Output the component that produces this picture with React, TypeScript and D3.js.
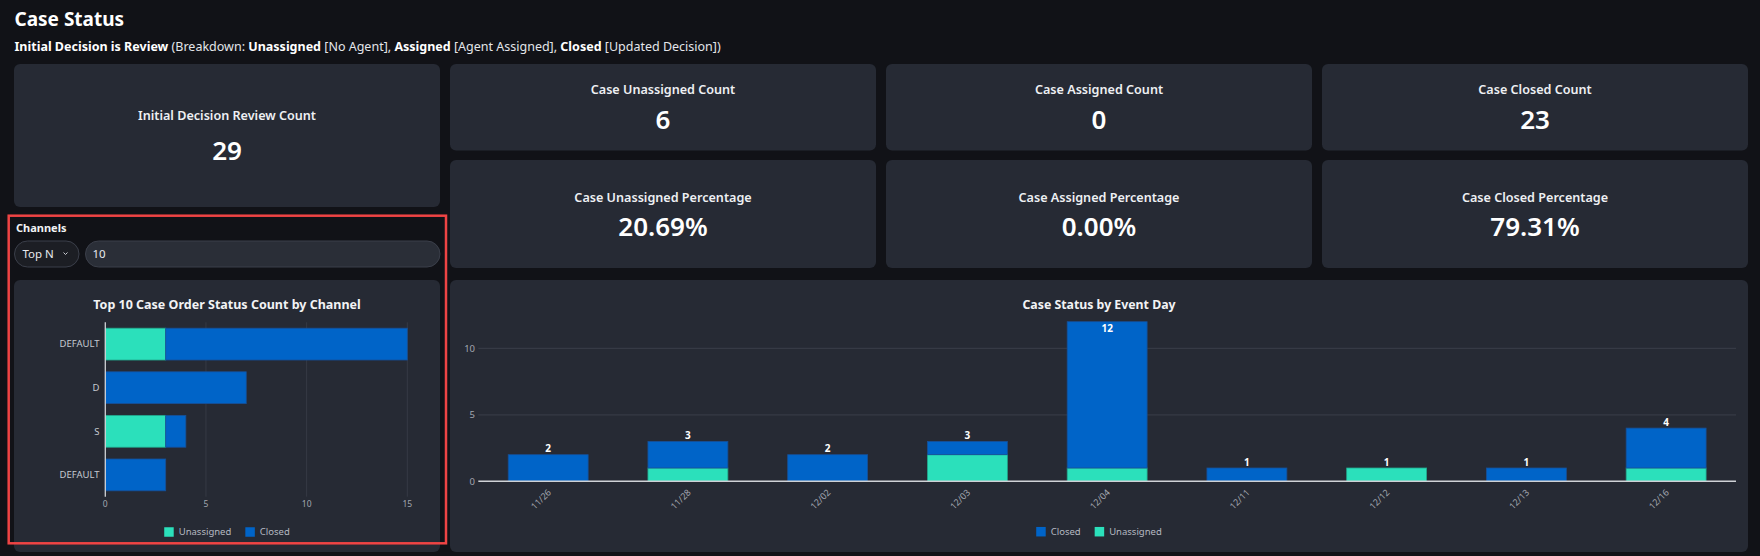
import React from 'react'
import * as d3 from 'd3'

const FONT = "'Noto Sans', sans-serif"
const PAGE_BG = '#111217'
const CARD_BG = '#262a34'
const GRID = '#363a45'
const BLUE = '#0064c8'
const TEAL = '#2be0bb'

// header
const pageTitle = 'Case Status'
const subtitleParts: [string, boolean][] = [
  ['Initial Decision is Review', true],
  [' (Breakdown: ', false],
  ['Unassigned', true],
  [' [No Agent], ', false],
  ['Assigned', true],
  [' [Agent Assigned], ', false],
  ['Closed', true],
  [' [Updated Decision])', false],
]

// KPI cards
const mainKpiTitle = 'Initial Decision Review Count'
const mainKpiValue = '29'
const countTitles = ['Case Unassigned Count', 'Case Assigned Count', 'Case Closed Count']
const countValues = ['6', '0', '23']
const pctTitles = ['Case Unassigned Percentage', 'Case Assigned Percentage', 'Case Closed Percentage']
const pctValues = ['20.69%', '0.00%', '79.31%']

// channel chart
const channelLabels = ['DEFAULT', 'D', 'S', 'DEFAULT']
const channelUnassigned = [3, 0, 3, 0]
const channelClosed = [12, 7, 1, 3]
const channelTicks = [0, 5, 10, 15]

// event day chart
const days = ['11/26', '11/28', '12/02', '12/03', '12/04', '12/11', '12/12', '12/13', '12/16']
const dayUnassigned = [0, 1, 0, 2, 1, 0, 1, 0, 1]
const dayClosed = [2, 2, 2, 1, 11, 1, 0, 1, 3]
const dayTicks = [0, 5, 10]

let ctx: CanvasRenderingContext2D | null = null
function textWidth(t: string, font: string) {
  if (!ctx) ctx = document.createElement('canvas').getContext('2d')
  if (!ctx) return t.length * 6
  ctx.font = font
  return ctx.measureText(t).width
}

function Card({ x, y, w, h }: { x: number; y: number; w: number; h: number }) {
  return <rect x={x} y={y} width={w} height={h} rx={6} fill={CARD_BG} />
}

function Kpi({ x, y, w, h, title, value, titleY, valueY }: any) {
  return (
    <g>
      <Card x={x} y={y} w={w} h={h} />
      <text x={x + w / 2} y={titleY} textAnchor="middle" fontSize={12.6} fontWeight={600} fill="#eef0f3">{title}</text>
      <text x={x + w / 2} y={valueY} textAnchor="middle" fontSize={26} fontWeight={600} fill="#ffffff">{value}</text>
    </g>
  )
}

function Legend({ cx, y, items }: { cx: number; y: number; items: [string, string][] }) {
  const sw = 9.5, gap = 5, space = 14
  const font = `9.5px ${FONT}`
  const widths = items.map(([t]) => sw + gap + textWidth(t, font))
  const total = d3.sum(widths) + space * (items.length - 1)
  let cur = cx - total / 2
  return (
    <g>
      {items.map(([t, c], i) => {
        const x0 = cur
        cur += widths[i] + space
        return (
          <g key={i}>
            <rect x={x0} y={y - sw / 2} width={sw} height={sw} fill={c} />
            <text x={x0 + sw + gap} y={y + 3.3} fontSize={9.5} fill="#b5b9c1">{t}</text>
          </g>
        )
      })}
    </g>
  )
}

function ChannelChart() {
  const data = channelLabels.map((_, i) => ({ idx: String(i), unassigned: channelUnassigned[i], closed: channelClosed[i] }))
  const series = d3.stack<any>().keys(['unassigned', 'closed'])(data)
  const x = d3.scaleLinear().domain([0, 15]).range([105.3, 407.3])
  const y = d3.scaleBand<string>().domain(data.map(d => d.idx)).range([322.3, 496.7]).paddingInner(0.27).paddingOuter(0.135)
  const colors = [TEAL, BLUE]
  const strokes = ['#22a68c', '#174f96']
  return (
    <g>
      <Card x={14} y={280} w={426} h={272} />
      <text x={227} y={308.5} textAnchor="middle" fontSize={12.5} fontWeight={700} fill="#f2f3f5">Top 10 Case Order Status Count by Channel</text>
      {channelTicks.filter(t => t > 0).map(t => (
        <line key={t} x1={x(t)} x2={x(t)} y1={322.3} y2={496.7} stroke={GRID} strokeWidth={1} />
      ))}
      {series.map((s, si) => s.map((d, i) => {
        const w = x(d[1]) - x(d[0])
        if (w <= 0) return null
        return (
          <rect key={si + '-' + i} x={x(d[0])} y={y(String(i))} width={w} height={y.bandwidth()}
            fill={colors[si]} stroke={strokes[si]} strokeWidth={0.8} />
        )
      }))}
      <line x1={105.3} x2={105.3} y1={322.3} y2={496.7} stroke="#cfd2d6" strokeWidth={1.3} />
      {channelLabels.map((l, i) => (
        <text key={i} x={99.5} y={(y(String(i)) as number) + y.bandwidth() / 2 + 3.3} textAnchor="end" fontSize={9.5} fill="#c5c9d0">{l}</text>
      ))}
      {channelTicks.map(t => (
        <text key={t} x={x(t)} y={507} textAnchor="middle" fontSize={8.5} fill="#a3a7b0">{t}</text>
      ))}
      <Legend cx={227} y={532} items={[['Unassigned', TEAL], ['Closed', BLUE]]} />
    </g>
  )
}

function DayChart() {
  const data = days.map((d, i) => ({ day: d, unassigned: dayUnassigned[i], closed: dayClosed[i] }))
  const series = d3.stack<any>().keys(['unassigned', 'closed'])(data)
  const x = d3.scaleBand<string>().domain(days).range([478.3, 1736]).paddingInner(0.428).paddingOuter(0.214)
  const y = d3.scaleLinear().domain([0, 12]).range([481.3, 321.7])
  const colors = [TEAL, BLUE]
  const strokes = ['#22a68c', '#174f96']
  const top = y(12)
  return (
    <g>
      <Card x={450} y={280} w={1298} h={272} />
      <text x={1099} y={308.5} textAnchor="middle" fontSize={12.3} fontWeight={700} fill="#f2f3f5">Case Status by Event Day</text>
      {dayTicks.filter(t => t > 0).map(t => (
        <line key={t} x1={478.3} x2={1736} y1={y(t)} y2={y(t)} stroke={GRID} strokeWidth={1.2} />
      ))}
      {dayTicks.map(t => (
        <text key={t} x={475} y={y(t) + 3.3} textAnchor="end" fontSize={9.5} fill="#a3a7b0">{t}</text>
      ))}
      {series.map((s, si) => s.map((d, i) => {
        const h = y(d[0]) - y(d[1])
        if (h <= 0) return null
        return (
          <rect key={si + '-' + i} x={x(days[i])} y={y(d[1])} width={x.bandwidth()} height={h}
            fill={colors[si]} stroke={strokes[si]} strokeWidth={0.8} />
        )
      }))}
      <line x1={478.3} x2={1736} y1={481.3} y2={481.3} stroke="#cfd2d6" strokeWidth={1.4} />
      {data.map((d, i) => {
        const total = d.unassigned + d.closed
        const yt = y(total)
        const inside = yt - 12 < top
        const cx = (x(d.day) as number) + x.bandwidth() / 2
        return (
          <text key={i} x={cx} y={inside ? yt + 10.5 : yt - 2.5} textAnchor="middle" fontSize={10} fontWeight={700} fill="#ffffff">{total}</text>
        )
      })}
      {days.map(d => {
        const cx = (x(d) as number) + x.bandwidth() / 2 + 3.5
        return (
          <text key={d} transform={`translate(${cx},${493}) rotate(-45)`} textAnchor="end" fontSize={9} fill="#a3a7b0">{d}</text>
        )
      })}
      <Legend cx={1099} y={531.7} items={[['Closed', BLUE], ['Unassigned', TEAL]]} />
    </g>
  )
}

export default function App() {
  const colX = [14, 450, 886, 1322]
  return (
    <div>
      <style>{`body{margin:0;background:${PAGE_BG};}`}</style>
      <svg width={1760} height={556} style={{ display: 'block', fontFamily: FONT }}>
        <rect width={1760} height={556} fill={PAGE_BG} />
        <text x={14.5} y={26} fontSize={19} fontWeight={700} fill="#ffffff">{pageTitle}</text>
        <text x={14.5} y={50.5} fontSize={12.5} fill="#ffffff">
          {subtitleParts.map(([t, b], i) => (
            <tspan key={i} fontWeight={b ? 700 : 400} fill={b ? '#ffffff' : '#e4e6ea'} style={{ whiteSpace: 'pre' }}>{t}</tspan>
          ))}
        </text>

        <Kpi x={colX[0]} y={64} w={426} h={143} title={mainKpiTitle} value={mainKpiValue} titleY={119.5} valueY={159.5} />
        {countTitles.map((t, i) => (
          <Kpi key={t} x={colX[i + 1]} y={64} w={426} h={86.5} title={t} value={countValues[i]} titleY={93.5} valueY={128.5} />
        ))}
        {pctTitles.map((t, i) => (
          <Kpi key={t} x={colX[i + 1]} y={160} w={426} h={108} title={t} value={pctValues[i]} titleY={201.5} valueY={236} />
        ))}

        <text x={16} y={232} fontSize={11} fontWeight={700} fill="#f2f3f5">Channels</text>
        <rect x={14.5} y={241} width={64.5} height={26} rx={13} fill="#1c1e24" stroke="#3b3f4a" />
        <text x={22.5} y={258.3} fontSize={11.5} fill="#e8eaee">Top N</text>
        <path d="M63.5,252.5 L65.5,254.5 L67.5,252.5" fill="none" stroke="#c8cbd1" strokeWidth={1} />
        <rect x={85.5} y={241} width={354.5} height={26} rx={13} fill="#2a2e37" stroke="#3b3f4a" />
        <text x={92.5} y={258.3} fontSize={11.5} fill="#e8eaee">10</text>

        <ChannelChart />
        <DayChart />

        <rect x={8.7} y={215.7} width={437.3} height={327.6} fill="none" stroke="#ef4444" strokeWidth={2.5} />
      </svg>
    </div>
  )
}
